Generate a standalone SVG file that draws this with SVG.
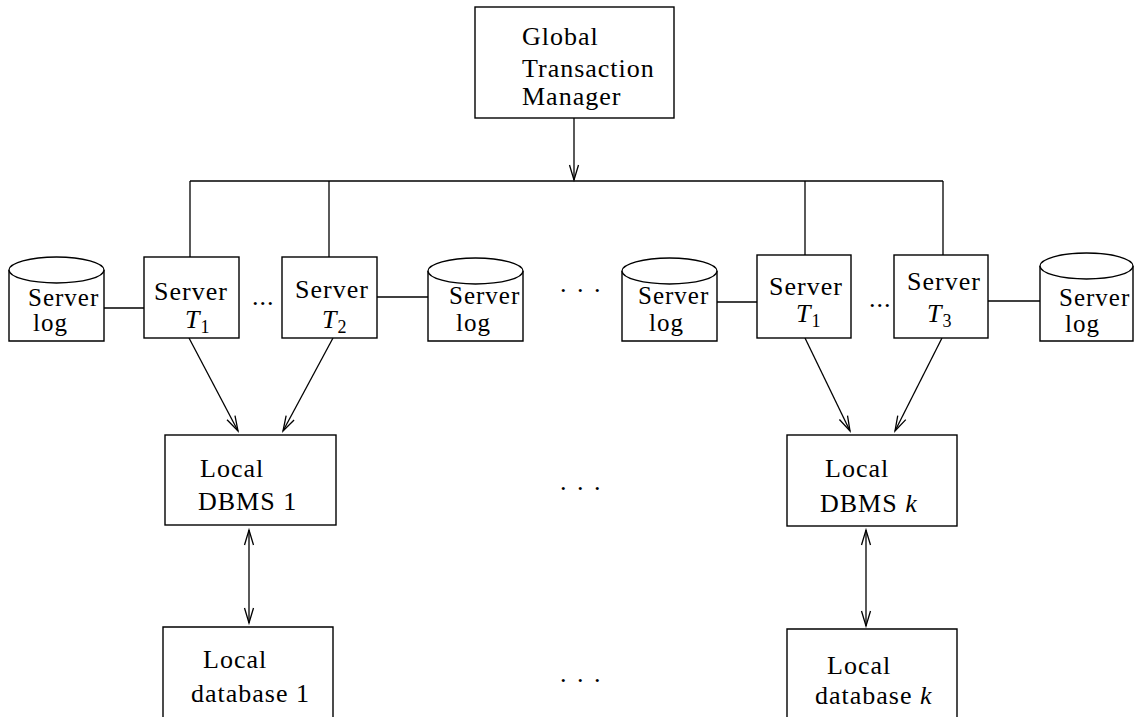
<svg xmlns="http://www.w3.org/2000/svg" width="1135" height="717" viewBox="0 0 1135 717" font-family="'Liberation Serif', 'DejaVu Serif', serif">
<style>
.b{fill:#fff;stroke:#000;stroke-width:1.4}
.l{fill:none;stroke:#000;stroke-width:1.3}
text{font-family:'Liberation Serif','DejaVu Serif',serif;font-size:26px;fill:#000;letter-spacing:1px}
.c{font-size:25px}
.i{font-style:italic}
.s{font-size:18px;letter-spacing:0}
</style>
<defs>
<marker id="ah" markerUnits="userSpaceOnUse" markerWidth="20" markerHeight="12" viewBox="-16 -6 18 12" refX="0" refY="0" orient="auto-start-reverse">
<path d="M-15,-4.5 L0,0 L-15,4.5" fill="none" stroke="#000" stroke-width="1.3"/>
</marker>
</defs>
<rect width="1135" height="717" fill="#fff"/>
<g id="connectors">
<line class="l" x1="574" y1="118" x2="574" y2="180" marker-end="url(#ah)"/>
<line class="l" x1="190" y1="181" x2="943" y2="181"/>
<line class="l" x1="190" y1="181" x2="190" y2="257"/>
<line class="l" x1="329" y1="181" x2="329" y2="257"/>
<line class="l" x1="805" y1="181" x2="805" y2="255"/>
<line class="l" x1="943" y1="181" x2="943" y2="255"/>
<line class="l" x1="104" y1="308" x2="144" y2="308"/>
<line class="l" x1="377" y1="297" x2="428" y2="297"/>
<line class="l" x1="717" y1="302" x2="757" y2="302"/>
<line class="l" x1="988" y1="301" x2="1040" y2="301"/>
<line class="l" x1="189" y1="338" x2="238" y2="431" marker-end="url(#ah)"/>
<line class="l" x1="333" y1="338" x2="283" y2="431" marker-end="url(#ah)"/>
<line class="l" x1="805" y1="338" x2="850" y2="431" marker-end="url(#ah)"/>
<line class="l" x1="942" y1="338" x2="895" y2="431" marker-end="url(#ah)"/>
<line class="l" x1="249" y1="530" x2="249" y2="623" marker-start="url(#ah)" marker-end="url(#ah)"/>
<line class="l" x1="866" y1="530" x2="866" y2="626" marker-start="url(#ah)" marker-end="url(#ah)"/>
</g>
<g id="gtm">
<rect class="b" x="475" y="7" width="199" height="111"/>
<text x="522" y="45">Global</text>
<text x="522" y="77">Transaction</text>
<text x="522" y="105">Manager</text>
</g>
<g id="log1">
<path class="b" d="M9,270 V341 H104 V270"/>
<ellipse class="b" cx="56.5" cy="270" rx="47.5" ry="13"/>
<text class="c" x="28" y="306">Server</text>
<text class="c" x="33" y="331">log</text>
</g>
<g id="server-t1a">
<rect class="b" x="144" y="257" width="95" height="81"/>
<text x="154" y="300">Server</text>
<text x="185" y="328"><tspan class="i">T</tspan><tspan class="s" dy="5">1</tspan></text>
</g>
<text x="252" y="305">...</text>
<g id="server-t2">
<rect class="b" x="282" y="257" width="95" height="81"/>
<text x="295" y="298">Server</text>
<text x="322" y="328"><tspan class="i">T</tspan><tspan class="s" dy="5">2</tspan></text>
</g>
<g id="log2">
<path class="b" d="M428,271 V341 H523 V271"/>
<ellipse class="b" cx="475.5" cy="271" rx="47.5" ry="13"/>
<text class="c" x="449" y="304">Server</text>
<text class="c" x="456" y="331">log</text>
</g>
<text x="560" y="292" style="letter-spacing:2px">. . .</text>
<g id="log3">
<path class="b" d="M622,271 V341 H717 V271"/>
<ellipse class="b" cx="669.5" cy="271" rx="47.5" ry="13"/>
<text class="c" x="638" y="304">Server</text>
<text class="c" x="649" y="331">log</text>
</g>
<g id="server-t1b">
<rect class="b" x="757" y="255" width="94" height="83"/>
<text x="769" y="295">Server</text>
<text x="796" y="322"><tspan class="i">T</tspan><tspan class="s" dy="5">1</tspan></text>
</g>
<text x="869" y="307">...</text>
<g id="server-t3">
<rect class="b" x="894" y="255" width="94" height="83"/>
<text x="907" y="290">Server</text>
<text x="927" y="322"><tspan class="i">T</tspan><tspan class="s" dy="5">3</tspan></text>
</g>
<g id="log4">
<path class="b" d="M1040,266 V341 H1133 V266"/>
<ellipse class="b" cx="1086.5" cy="266" rx="46.5" ry="13"/>
<text class="c" x="1059" y="306">Server</text>
<text class="c" x="1065" y="332">log</text>
</g>
<g id="dbms1">
<rect class="b" x="165" y="435" width="171" height="90"/>
<text x="200" y="477">Local</text>
<text x="198" y="510">DBMS 1</text>
</g>
<text x="560" y="490" style="letter-spacing:2px">. . .</text>
<g id="dbmsk">
<rect class="b" x="787" y="435" width="170" height="91"/>
<text x="825" y="477">Local</text>
<text x="820" y="512">DBMS <tspan class="i">k</tspan></text>
</g>
<g id="db1">
<path class="b" d="M163,718 V627 H333 V718"/>
<text x="203" y="668">Local</text>
<text x="191" y="702">database 1</text>
</g>
<text x="560" y="682" style="letter-spacing:2px">. . .</text>
<g id="dbk">
<path class="b" d="M787,718 V629 H957 V718"/>
<text x="827" y="674">Local</text>
<text x="815" y="704">database <tspan class="i">k</tspan></text>
</g>
</svg>
